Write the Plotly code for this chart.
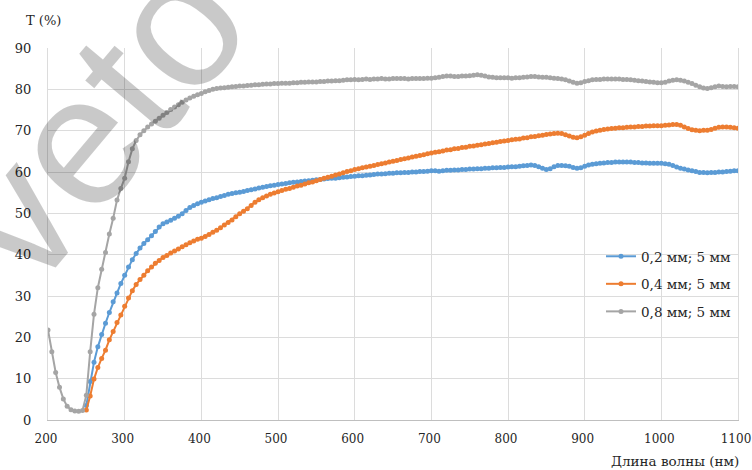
import plotly.graph_objects as go

wavelength_gray = list(range(200, 1105, 5))
wavelength_thin = list(range(250, 1105, 5))

t_08 = [
    21.8, 16.5, 11.5, 7.9, 5.1, 3.3, 2.5, 2.2, 2.1, 2.3,
    6.0, 16.5, 25.6, 32.0, 36.5, 40.5, 45.0, 48.8, 53.2, 56.0,
    58.5, 62.5, 65.6, 67.6, 69.0, 70.0, 70.9, 71.6, 72.3, 73.0,
    73.7, 74.4, 75.1, 75.7, 76.3, 76.9, 77.4, 77.9, 78.3, 78.7,
    79.0, 79.4, 79.7, 80.0, 80.2, 80.3, 80.4, 80.5, 80.6, 80.7,
    80.8, 80.8, 80.9, 81.0, 81.1, 81.1, 81.2, 81.3, 81.3, 81.4,
    81.4, 81.5, 81.5, 81.5, 81.6, 81.6, 81.7, 81.7, 81.8, 81.8,
    81.8, 81.9, 81.9, 82.0, 82.0, 82.1, 82.1, 82.2, 82.3, 82.3,
    82.4, 82.3, 82.4, 82.5, 82.4, 82.5, 82.5, 82.6, 82.5, 82.5,
    82.6, 82.6, 82.6, 82.6, 82.5, 82.6, 82.6, 82.6, 82.6, 82.7,
    82.7, 82.8, 82.9, 83.1, 83.2, 83.2, 83.1, 83.1, 83.2, 83.2,
    83.3, 83.4, 83.5, 83.4, 83.2, 83.0, 82.9, 82.8, 82.8, 82.8,
    82.8, 82.7, 82.8, 82.8, 82.9, 83.0, 83.1, 83.1, 83.0, 82.9,
    82.9, 82.8, 82.7, 82.6, 82.5, 82.3, 82.0, 81.7, 81.5, 81.6,
    81.9, 82.1, 82.3, 82.4, 82.4, 82.5, 82.5, 82.5, 82.5, 82.5,
    82.4, 82.4, 82.3, 82.2, 82.1, 82.0, 81.9, 81.8, 81.7, 81.6,
    81.6, 81.7, 82.0, 82.2, 82.3, 82.2, 82.0, 81.7, 81.4, 81.0,
    80.6, 80.3, 80.2, 80.4, 80.6, 80.8, 80.7, 80.6, 80.7, 80.7,
    80.6,
]

t_02 = [
    3.5, 9.3, 14.0, 17.7, 20.7, 23.4, 26.0, 28.6, 30.7, 33.0,
    35.0, 37.0, 38.8, 40.3, 41.6, 42.7, 43.6, 44.6, 45.6, 46.7,
    47.5, 47.9, 48.3, 48.8, 49.3, 49.9, 50.7, 51.4, 51.9, 52.3,
    52.7, 53.0, 53.3, 53.6, 53.8, 54.1, 54.3, 54.6, 54.8, 55.0,
    55.1, 55.3, 55.5, 55.7, 55.9, 56.1, 56.3, 56.5, 56.7, 56.8,
    57.0, 57.1, 57.2, 57.4, 57.5, 57.6, 57.7, 57.8, 57.9, 58.0,
    58.1, 58.2, 58.3, 58.4, 58.5, 58.5, 58.6, 58.7, 58.8, 58.9,
    59.0, 59.1, 59.1, 59.2, 59.3, 59.4, 59.5, 59.5, 59.6, 59.7,
    59.7, 59.8, 59.8, 59.9, 59.9, 60.0, 60.0, 60.1, 60.1, 60.2,
    60.3, 60.3, 60.2, 60.3, 60.4, 60.4, 60.5, 60.5, 60.6, 60.6,
    60.7, 60.7, 60.8, 60.8, 60.9, 60.9, 61.0, 61.0, 61.1, 61.1,
    61.2, 61.3, 61.3, 61.4, 61.5, 61.6, 61.7, 61.6, 61.3, 60.9,
    60.6, 60.8, 61.3, 61.6, 61.6, 61.5, 61.4, 61.1, 60.9, 61.0,
    61.4, 61.7, 61.9, 62.0, 62.1, 62.2, 62.3, 62.3, 62.4, 62.4,
    62.4, 62.4, 62.4, 62.3, 62.3, 62.2, 62.2, 62.1, 62.1, 62.1,
    62.1, 62.0, 61.9, 61.6, 61.2, 60.9, 60.7, 60.5, 60.3, 60.1,
    59.9, 59.9, 59.8, 59.9, 59.9, 60.0, 60.0, 60.1, 60.2, 60.3,
    60.3,
]

t_04 = [
    2.4, 5.8, 9.9, 12.7, 14.9, 16.9, 19.4, 21.4, 23.6, 25.4,
    27.5, 29.5, 31.3, 32.8, 34.0, 35.0, 36.1, 37.0, 37.9, 38.6,
    39.3, 39.8, 40.4, 40.9, 41.4, 41.9, 42.4, 42.9, 43.3, 43.7,
    44.0, 44.4, 44.9, 45.4, 45.9, 46.5, 47.2, 47.8, 48.4, 49.2,
    49.9, 50.5, 51.1, 51.9, 52.7, 53.3, 53.8, 54.2, 54.6, 54.9,
    55.2, 55.5, 55.8, 56.0, 56.3, 56.6, 56.8, 57.1, 57.4, 57.6,
    57.9, 58.2, 58.5, 58.7, 59.0, 59.3, 59.5, 59.8, 60.1, 60.3,
    60.6, 60.8, 61.0, 61.2, 61.4, 61.6, 61.8, 62.0, 62.2, 62.4,
    62.6, 62.8, 63.0, 63.2, 63.4, 63.6, 63.8, 64.0, 64.2, 64.4,
    64.6, 64.8, 64.9, 65.1, 65.3, 65.4, 65.6, 65.7, 65.9, 66.0,
    66.2, 66.3, 66.5, 66.6, 66.8, 66.9, 67.1, 67.2, 67.4, 67.5,
    67.6, 67.8, 67.9, 68.0, 68.2, 68.3, 68.5, 68.6, 68.8, 68.9,
    69.1, 69.2, 69.3, 69.4, 69.3, 69.0, 68.7, 68.4, 68.3, 68.5,
    68.9, 69.3, 69.7, 69.9, 70.1, 70.3, 70.4, 70.5, 70.6, 70.7,
    70.7, 70.8, 70.9, 70.9, 71.0, 71.0, 71.1, 71.1, 71.2, 71.2,
    71.2, 71.3, 71.4, 71.5, 71.5, 71.3, 70.9, 70.5, 70.2, 70.1,
    70.0, 70.1, 70.1, 70.3, 70.6, 70.8, 70.9, 70.9, 70.8, 70.7,
    70.6,
]

series_names = ["0,2 мм; 5 мм", "0,4 мм; 5 мм", "0,8 мм; 5 мм"]
series_colors = ["#5B9BD5", "#ED7D31", "#A5A5A5"]
x_ticks = [200, 300, 400, 500, 600, 700, 800, 900, 1000, 1100]
y_ticks = [0, 10, 20, 30, 40, 50, 60, 70, 80, 90]

W, H = 752, 470
L, R, T, B = 48, 14, 48, 50
pw, ph = W - L - R, H - T - B


def px(xp):
    return (xp - L) / pw


def py(yp):
    return (H - B - yp) / ph


fig = go.Figure()
data = [(wavelength_thin, t_02), (wavelength_thin, t_04), (wavelength_gray, t_08)]
for i, ((xs, ys), name, col) in enumerate(zip(data, series_names, series_colors)):
    fig.add_trace(go.Scatter(
        x=xs, y=ys, name=name, mode="lines+markers",
        line=dict(color=col, width=2),
        marker=dict(color=col, size=5, symbol="circle"),
        legendgroup=f"g{i}",
    ))

serif = "DejaVu Serif"
text_col = "#262626"

fig.update_layout(
    width=W, height=H,
    margin=dict(l=L, r=R, t=T, b=B, autoexpand=False),
    paper_bgcolor="white", plot_bgcolor="white",
    font=dict(family=serif, size=13, color=text_col),
    showlegend=True,
    legend=dict(
        x=px(601), y=py(241), xanchor="left", yanchor="top",
        font=dict(family=serif, size=13.5, color=text_col),
        bgcolor="rgba(0,0,0,0)", tracegroupgap=7, traceorder="grouped",
        itemwidth=30,
    ),
    xaxis=dict(
        range=[200, 1100], tickvals=x_ticks, ticktext=[str(v) for v in x_ticks],
        showgrid=True, gridcolor="#dcdcdc", gridwidth=1,
        showline=True, linecolor="#bfbfbf", linewidth=1,
        zeroline=False, ticks="", ticklabelstandoff=8, automargin=False,
        ticklabeloverflow="allow", ticklabelshift=-2,
        tickfont=dict(family=serif, size=12, color=text_col),
    ),
    yaxis=dict(
        range=[0, 90], tickvals=y_ticks, ticktext=[str(v) for v in y_ticks],
        showgrid=True, gridcolor="#dcdcdc", gridwidth=1,
        showline=True, mirror=True, linecolor="#dcdcdc", linewidth=1,
        zeroline=False, ticks="", ticklabelstandoff=13, automargin=False,
        ticklabeloverflow="allow",
        tickfont=dict(family=serif, size=13, color=text_col),
    ),
    annotations=[
        dict(text="T (%)", xref="paper", yref="paper", x=px(24), y=py(20),
             xanchor="left", yanchor="middle", showarrow=False,
             font=dict(family=serif, size=13, color=text_col)),
        dict(text="Длина волны (нм)", xref="paper", yref="paper", x=px(741), y=py(461),
             xanchor="right", yanchor="middle", showarrow=False,
             font=dict(family=serif, size=13.5, color=text_col)),
        dict(text="veto", xref="paper", yref="paper", x=px(96), y=py(120),
             xanchor="center", yanchor="middle", showarrow=False, textangle=-50,
             font=dict(family="Liberation Sans", size=185,
                       color="rgba(0,0,0,0.21)")),
    ],
)

fig.write_html("out.html", config={"displayModeBar": False},
               post_script="document.body.style.margin='0';")
